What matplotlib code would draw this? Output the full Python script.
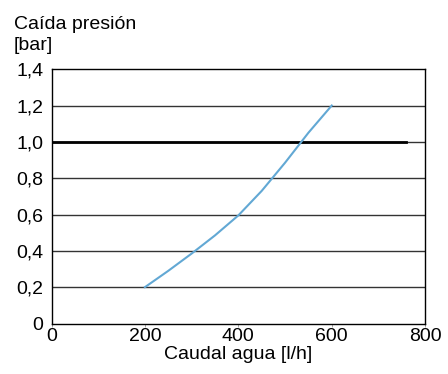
import numpy as np
import matplotlib.pyplot as plt

plt.rcParams['font.family'] = ['Liberation Sans', 'DejaVu Sans']

# curve
caudal = [200, 250, 300, 350, 400, 450, 500, 550, 600]
caida = [0.2, 0.29, 0.385, 0.485, 0.595, 0.73, 0.885, 1.05, 1.2]

x_ticks = [0, 200, 400, 600, 800]
y_ticks = [0, 0.2, 0.4, 0.6, 0.8, 1.0, 1.2, 1.4]
y_labels = ['0', '0,2', '0,4', '0,6', '0,8', '1,0', '1,2', '1,4']

# reference line at 1.0 bar
ref_y = 1.0
ref_x_end = 760

fig = plt.figure(figsize=(4.48, 3.74), dpi=100)
ax = fig.add_axes([0.115, 0.135, 0.834, 0.68])

for y in y_ticks[1:-1]:
    ax.axhline(y, color='#333333', lw=1.0, zorder=1)
ax.plot([0, ref_x_end], [ref_y, ref_y], color='black', lw=2.0, zorder=2)
ax.plot(caudal, caida, color='#62a8d4', lw=1.5, zorder=3)

ax.set_xlim(0, 800)
ax.set_ylim(0, 1.4)
ax.set_xticks(x_ticks)
ax.set_yticks(y_ticks)
ax.set_yticklabels(y_labels)
ax.tick_params(axis='x', length=2, width=0.6, color='#999999', labelsize=14, pad=1)
ax.tick_params(axis='y', length=0, labelsize=14, pad=6)
for s in ax.spines.values():
    s.set_linewidth(1.0)
    s.set_color('black')

ax.set_xlabel('Caudal agua [l/h]', fontsize=14, labelpad=1)
fig.text(0.031, 0.958, 'Caída presión\n[bar]', fontsize=14, va='top', ha='left', linespacing=1.35)

fig.savefig('out.png', dpi=100)
